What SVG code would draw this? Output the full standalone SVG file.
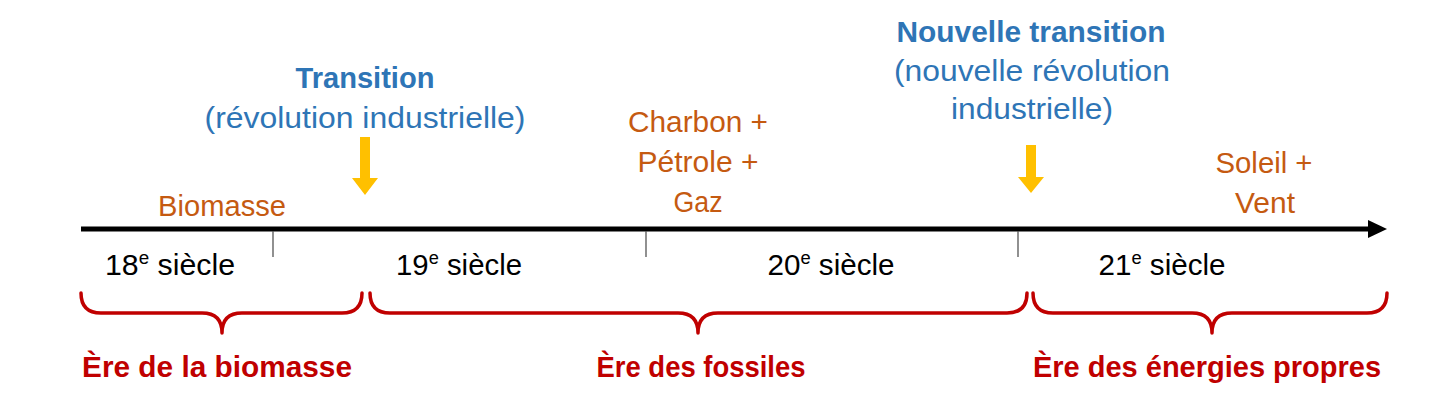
<svg xmlns="http://www.w3.org/2000/svg" width="1440" height="408" viewBox="0 0 1440 408">
<defs>
<style>
text{font-family:"Liberation Sans",Arial,sans-serif;font-size:29px;text-anchor:middle}
.blk{fill:#000}
.org{fill:#C55A11}
.blu{fill:#2E75B6}
.bluB{fill:#2E75B6;font-weight:bold}
.red{fill:#C00000;font-weight:bold}
.sup{font-size:18px}
.tick{stroke:#555;stroke-width:1.3}
.brace{fill:none;stroke:#C00000;stroke-width:3.5;stroke-linejoin:round;stroke-linecap:round}
.yarrow{fill:#FFC000}
</style>
</defs>
<rect width="1440" height="408" fill="#fff"/>
<g id="connectors">
<line x1="81" y1="229" x2="1372" y2="229" stroke="#000" stroke-width="5"/>
<polygon points="1368,220 1387,229 1368,238" fill="#000"/>
<line class="tick" x1="273" y1="231" x2="273" y2="257"/>
<line class="tick" x1="646" y1="231" x2="646" y2="257"/>
<line class="tick" x1="1018" y1="231" x2="1018" y2="257"/>
<polygon class="yarrow" points="360,137 370,137 370,178 378,178 365,195 352,178 360,178"/>
<polygon class="yarrow" points="1026,145 1036,145 1036,177 1044,177 1031,193 1018,177 1026,177"/>
<path class="brace" d="M81,293 Q81,313 101,313 L202,313 Q222,313 222,333 Q222,313 242,313 L342,313 Q362,313 362,293"/>
<path class="brace" d="M370,293 Q370,313 390,313 L678,313 Q698,313 698,333 Q698,313 718,313 L1007,313 Q1027,313 1027,293"/>
<path class="brace" d="M1033,293 Q1033,313 1053,313 L1192,313 Q1212,313 1212,333 Q1212,313 1232,313 L1367,313 Q1387,313 1387,293"/>
</g>
<g id="century-18"><text class="blk" x="170" y="275" textLength="130" lengthAdjust="spacingAndGlyphs">18<tspan class="sup" dy="-11">e</tspan><tspan dy="11"> siècle</tspan></text></g>
<g id="century-19"><text class="blk" x="459" y="275" textLength="126" lengthAdjust="spacingAndGlyphs">19<tspan class="sup" dy="-11">e</tspan><tspan dy="11"> siècle</tspan></text></g>
<g id="century-20"><text class="blk" x="831" y="275" textLength="127" lengthAdjust="spacingAndGlyphs">20<tspan class="sup" dy="-11">e</tspan><tspan dy="11"> siècle</tspan></text></g>
<g id="century-21"><text class="blk" x="1162" y="275" textLength="127" lengthAdjust="spacingAndGlyphs">21<tspan class="sup" dy="-11">e</tspan><tspan dy="11"> siècle</tspan></text></g>
<g id="biomasse"><text class="org" x="222" y="216" textLength="128" lengthAdjust="spacingAndGlyphs">Biomasse</text></g>
<g id="fossiles">
<text class="org" x="698" y="132" textLength="140" lengthAdjust="spacingAndGlyphs">Charbon +</text>
<text class="org" x="698" y="172" textLength="121" lengthAdjust="spacingAndGlyphs">Pétrole +</text>
<text class="org" x="698" y="212" textLength="49" lengthAdjust="spacingAndGlyphs">Gaz</text>
</g>
<g id="renouvelables">
<text class="org" x="1264" y="173" textLength="97" lengthAdjust="spacingAndGlyphs">Soleil +</text>
<text class="org" x="1265" y="213" textLength="60" lengthAdjust="spacingAndGlyphs">Vent</text>
</g>
<g id="transition">
<text class="bluB" x="365" y="88" textLength="139" lengthAdjust="spacingAndGlyphs">Transition</text>
<text class="blu" x="365" y="128" textLength="321" lengthAdjust="spacingAndGlyphs">(révolution industrielle)</text>
</g>
<g id="nouvelle-transition">
<text class="bluB" x="1031" y="42" textLength="269" lengthAdjust="spacingAndGlyphs">Nouvelle transition</text>
<text class="blu" x="1032" y="81" textLength="276" lengthAdjust="spacingAndGlyphs">(nouvelle révolution</text>
<text class="blu" x="1032" y="119" textLength="162" lengthAdjust="spacingAndGlyphs">industrielle)</text>
</g>
<g id="ere-biomasse"><text class="red" x="217" y="377" textLength="270" lengthAdjust="spacingAndGlyphs">Ère de la biomasse</text></g>
<g id="ere-fossiles"><text class="red" x="701" y="377" textLength="209" lengthAdjust="spacingAndGlyphs">Ère des fossiles</text></g>
<g id="ere-propres"><text class="red" x="1207" y="377" textLength="348" lengthAdjust="spacingAndGlyphs">Ère des énergies propres</text></g>
</svg>
